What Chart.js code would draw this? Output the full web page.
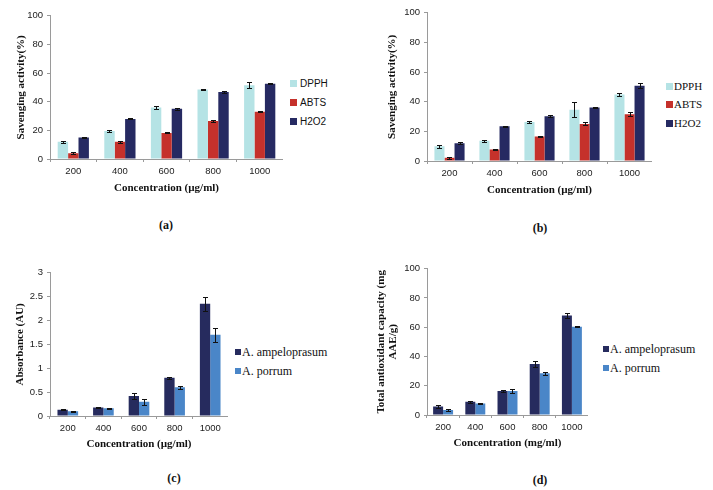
<!DOCTYPE html>
<html>
<head>
<meta charset="utf-8">
<script src="https://cdn.jsdelivr.net/npm/chart.js@4.4.1/dist/chart.umd.min.js"></script>
<style>
  html, body { margin: 0; padding: 0; background: #fff; }
  #page { position: relative; width: 713px; height: 490px; overflow: hidden; background: #fff; }
  .panel { position: absolute; }
  .legend { position: absolute; color: #111; }
  .legend .item { position: absolute; white-space: nowrap; display: flex; align-items: center; height: 14px; }
  .legend .box { display: inline-block; }
  .caption { position: absolute; font-family: "Liberation Serif", serif; font-weight: bold; font-size: 12px; color: #111; transform: translate(-50%, -50%); }
</style>
</head>
<body>
<div id="page">
  <div class="panel" id="pa"><canvas id="ca"></canvas></div>
  <div class="panel" id="pb"><canvas id="cb"></canvas></div>
  <div class="panel" id="pc"><canvas id="cc"></canvas></div>
  <div class="panel" id="pd"><canvas id="cd"></canvas></div>
  <div class="caption" style="left:166px;top:225px;">(a)</div>
  <div class="caption" style="left:540px;top:228px;">(b)</div>
  <div class="caption" style="left:174px;top:478px;">(c)</div>
  <div class="caption" style="left:540px;top:480px;">(d)</div>
</div>
<script>
// ---------- data ----------
const categories = ['200', '400', '600', '800', '1000'];

// (a) Savenging activity (%)
const aDPPH = [12, 19.5, 36, 48.5, 51.5];
const aABTS = [4, 12, 18.2, 26.6, 33];
const aH2O2 = [15, 28, 35, 46.8, 52.5];
const aDPPHErr = [0.6, 0.6, 0.9, 0.6, 2];
const aABTSErr = [0.8, 0.5, 0.4, 0.5, 0.4];
const aH2O2Err = [0.5, 0.4, 0.6, 0.6, 0.4];

// (b) Savenging activity (%)
const bDPPH = [10, 13.6, 26.3, 34.5, 44.8];
const bABTS = [2.2, 7.8, 16.5, 25, 31.6];
const bH2O2 = [12, 23.4, 30.2, 36, 50.8];
const bDPPHErr = [1, 0.8, 0.7, 5, 1.3];
const bABTSErr = [0.8, 0.3, 0.6, 1, 1.5];
const bH2O2Err = [0.5, 0.5, 0.6, 0.4, 1.5];

// (c) Absorbance (AU)
const cAmpelo = [0.13, 0.18, 0.42, 0.80, 2.35];
const cPorrum = [0.10, 0.16, 0.30, 0.60, 1.70];
const cAmpeloErr = [0.01, 0.01, 0.06, 0.02, 0.15];
const cPorrumErr = [0.01, 0.01, 0.06, 0.03, 0.15];

// (d) Total antioxidant capacity (mg AAE/g)
const dAmpelo = [5.8, 9, 16.4, 34.8, 68];
const dPorrum = [3.4, 7.9, 16.4, 28.5, 60.4];
const dAmpeloErr = [1.2, 0.6, 0.6, 1.8, 1.7];
const dPorrumErr = [0.5, 0.6, 1.5, 1, 0.5];

// tick labels
const pctTicks = ['0', '20', '40', '60', '80', '100'];
const absTicks = ['0', '0.5', '1', '1.5', '2', '2.5', '3'];

// ---------- error bars ----------
const errorBarPlugin = {
  id: 'errorBars',
  afterDatasetsDraw(chart) {
    const ctx = chart.ctx;
    const y = chart.scales.y;
    chart.data.datasets.forEach((ds, i) => {
      const meta = chart.getDatasetMeta(i);
      if (!ds.errors) return;
      meta.data.forEach((bar, j) => {
        const v = ds.data[j], e = ds.errors[j];
        const yt = Math.round(y.getPixelForValue(v + e)) + 0.5;
        const yb = Math.round(y.getPixelForValue(v - e)) + 0.5;
        const x = Math.round(bar.x) + 0.5;
        ctx.save();
        ctx.strokeStyle = '#111';
        ctx.lineWidth = 1;
        ctx.beginPath();
        ctx.moveTo(x, yt); ctx.lineTo(x, yb);
        ctx.moveTo(x - 2.5, yt); ctx.lineTo(x + 2.5, yt);
        ctx.moveTo(x - 2.5, yb); ctx.lineTo(x + 2.5, yb);
        ctx.stroke();
        ctx.restore();
      });
    });
  }
};

const AXIS = '#9a9a9a';
const tickFont = { family: 'Liberation Sans', size: 9.5 };
const titleFont = { family: 'Liberation Serif', size: 11, weight: 'bold' };

function makePanel(p) {
  const holder = document.getElementById(p.holder);
  holder.style.left = p.left + 'px';
  holder.style.top = p.top + 'px';
  const canvas = document.getElementById(p.canvas);
  canvas.width = p.w; canvas.height = p.h;
  canvas.style.width = p.w + 'px'; canvas.style.height = p.h + 'px';

  const chart = new Chart(canvas, {
    type: 'bar',
    data: {
      labels: categories,
      datasets: p.datasets.map(d => ({
        label: d.label, data: d.data, errors: d.errors,
        backgroundColor: d.color, borderWidth: 0,
        barPercentage: 1, categoryPercentage: p.catPct
      }))
    },
    options: {
      responsive: false, animation: false, devicePixelRatio: 1,
      layout: { padding: { top: 8, left: 0, right: 0, bottom: 0 } },
      plugins: { legend: { display: false }, tooltip: { enabled: false } },
      scales: {
        x: {
          grid: { display: true, offset: true, drawOnChartArea: false, drawTicks: true, tickLength: 3, color: AXIS },
          border: { color: AXIS },
          ticks: { font: tickFont, color: '#222', padding: 4, maxRotation: 0 },
          title: { display: true, text: p.xTitle, font: titleFont, color: '#111', padding: 0 },
          afterFit(s) { s.height = p.hx; }
        },
        y: {
          min: 0, max: p.yMax,
          grid: { display: true, drawOnChartArea: false, drawTicks: true, tickLength: 3, color: AXIS },
          border: { color: AXIS },
          ticks: {
            stepSize: p.step, font: tickFont, color: '#222', padding: 4,
            callback: (val, idx) => p.tickLabels[idx]
          },
          title: { display: true, text: p.yTitle, font: Object.assign({}, titleFont, p.yTitleLH ? { lineHeight: p.yTitleLH } : {}), color: '#111', padding: 0 },
          afterFit(s) { s.width = p.wy; }
        }
      }
    },
    plugins: [errorBarPlugin]
  });

  // legend built from the chart's own datasets
  const lg = document.createElement('div');
  lg.className = 'legend';
  lg.style.left = p.legend.left + 'px';
  lg.style.top = '0px';
  chart.data.datasets.forEach((ds, i) => {
    const it = document.createElement('div');
    it.className = 'item';
    it.style.top = (p.legend.rows[i] - 7) + 'px';
    it.style.left = '0px';
    it.style.fontFamily = p.legend.font;
    it.style.fontSize = p.legend.size + 'px';
    const b = document.createElement('span');
    b.className = 'box';
    b.style.width = p.legend.box + 'px';
    b.style.height = p.legend.box + 'px';
    b.style.background = ds.backgroundColor;
    b.style.marginRight = p.legend.gap + 'px';
    const t = document.createElement('span');
    t.textContent = ds.label;
    it.appendChild(b); it.appendChild(t);
    lg.appendChild(it);
  });
  document.getElementById('page').appendChild(lg);
  return chart;
}

const C_DPPH = '#b5e3e5', C_ABTS = '#c5312b', C_H2O2 = '#262a62';
const C_AMP = '#262b5e', C_POR = '#4a86c8';

makePanel({
  holder: 'pa', canvas: 'ca', left: 15, top: 6, w: 268, h: 189, wy: 35, hx: 36,
  yMax: 100, step: 20, tickLabels: pctTicks, catPct: 0.67,
  xTitle: 'Concentration (µg/ml)', yTitle: 'Savenging activity(%)',
  datasets: [
    { label: 'DPPH', data: aDPPH, errors: aDPPHErr, color: C_DPPH },
    { label: 'ABTS', data: aABTS, errors: aABTSErr, color: C_ABTS },
    { label: 'H2O2', data: aH2O2, errors: aH2O2Err, color: C_H2O2 }
  ],
  legend: { left: 290, rows: [83, 102, 121], font: '"Liberation Sans", sans-serif', size: 10, box: 7, gap: 3 }
});

makePanel({
  holder: 'pb', canvas: 'cb', left: 386, top: 3, w: 266, h: 194, wy: 41, hx: 36,
  yMax: 100, step: 20, tickLabels: pctTicks, catPct: 0.67,
  xTitle: 'Concentration (µg/ml)', yTitle: 'Savenging activity(%)',
  datasets: [
    { label: 'DPPH', data: bDPPH, errors: bDPPHErr, color: C_DPPH },
    { label: 'ABTS', data: bABTS, errors: bABTSErr, color: C_ABTS },
    { label: 'H2O2', data: bH2O2, errors: bH2O2Err, color: C_H2O2 }
  ],
  legend: { left: 666, rows: [86, 104, 123], font: '"Liberation Serif", serif', size: 11, box: 7, gap: 1 }
});

makePanel({
  holder: 'pc', canvas: 'cc', left: 14, top: 263, w: 214, h: 188, wy: 36, hx: 35,
  yMax: 3, step: 0.5, tickLabels: absTicks, catPct: 0.58,
  xTitle: 'Concentration (µg/ml)', yTitle: 'Absorbance (AU)',
  datasets: [
    { label: 'A. ampeloprasum', data: cAmpelo, errors: cAmpeloErr, color: C_AMP },
    { label: 'A. porrum', data: cPorrum, errors: cPorrumErr, color: C_POR }
  ],
  legend: { left: 235, rows: [352, 371], font: '"Liberation Serif", serif', size: 12, box: 6, gap: 1 }
});

makePanel({
  holder: 'pd', canvas: 'cd', left: 375, top: 259, w: 213, h: 191, wy: 52, hx: 35,
  yMax: 100, step: 20, tickLabels: pctTicks, catPct: 0.62,
  xTitle: 'Concentration (mg/ml)', yTitle: ['Total antioxidant capacity (mg', 'AAE/g)'], yTitleLH: 1.1,
  datasets: [
    { label: 'A. ampeloprasum', data: dAmpelo, errors: dAmpeloErr, color: C_AMP },
    { label: 'A. porrum', data: dPorrum, errors: dPorrumErr, color: C_POR }
  ],
  legend: { left: 603, rows: [349, 368], font: '"Liberation Serif", serif', size: 12, box: 6, gap: 1 }
});
</script>
</body>
</html>
